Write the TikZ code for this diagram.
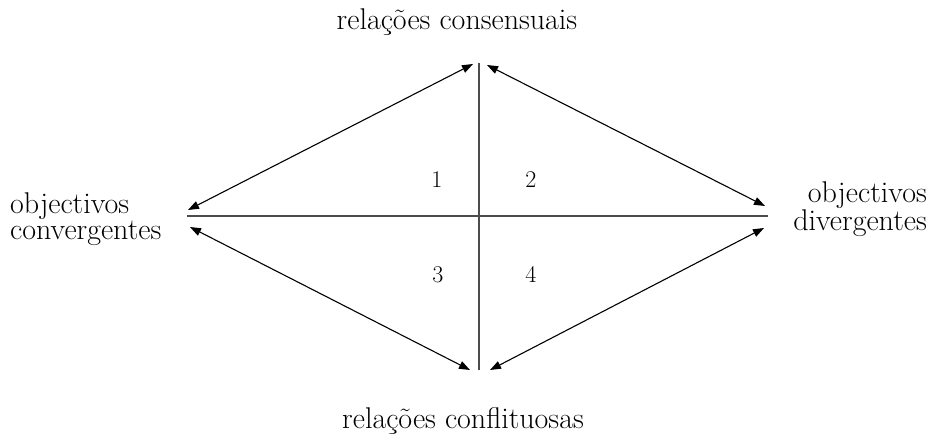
\documentclass[tikz,border=0pt]{standalone}
\usepackage{fontspec}
\usetikzlibrary{arrows.meta}

\begin{document}
\begin{tikzpicture}[x=1pt, y=-1pt, >={Triangle[length=11pt, width=8pt]},
  lbl/.style={font=\fontsize{30}{22}\selectfont, inner sep=0pt},
  num/.style={font=\fontsize{24}{24}\selectfont, inner sep=0pt, anchor=base},
  axis/.style={draw=black!70, line width=1.8pt},
  rel/.style={<->, line width=1.1pt}]
  \useasboundingbox (0,0) rectangle (929,436);
  % axes
  \coordinate (vtop) at (479,63);
  \coordinate (vbot) at (479,370);
  \coordinate (hleft) at (187,216);
  \coordinate (hright) at (768,216);
  \draw[axis] (vtop) -- (vbot);
  \draw[axis] (hleft) -- (hright);
  % arrow ends
  \coordinate (tl) at (473,64);
  \coordinate (tr) at (487,65);
  \coordinate (bl) at (470,370);
  \coordinate (br) at (490,370);
  \coordinate (lu) at (188,210);
  \coordinate (ld) at (190,227);
  \coordinate (ru) at (765,206);
  \coordinate (rd) at (764,228);
  \draw[rel] (tl) -- (lu);
  \draw[rel] (tr) -- (ru);
  \draw[rel] (ld) -- (bl);
  \draw[rel] (br) -- (rd);
  % labels
  \node[lbl, anchor=base] (cons) at (457,30) {relações consensuais};
  \node[lbl, anchor=base] (conf) at (463,428) {relações conflituosas};
  \node[lbl, align=left, anchor=base west] (conv) at (10,239) {objectivos\\convergentes};
  \node[lbl, align=right, anchor=base east] (div) at (927,230) {objectivos\\divergentes};
  % quadrants
  \node[num] (q1) at (437,187) {1};
  \node[num] (q2) at (531,187) {2};
  \node[num] (q3) at (438,282) {3};
  \node[num] (q4) at (531,282) {4};
\end{tikzpicture}
\end{document}
